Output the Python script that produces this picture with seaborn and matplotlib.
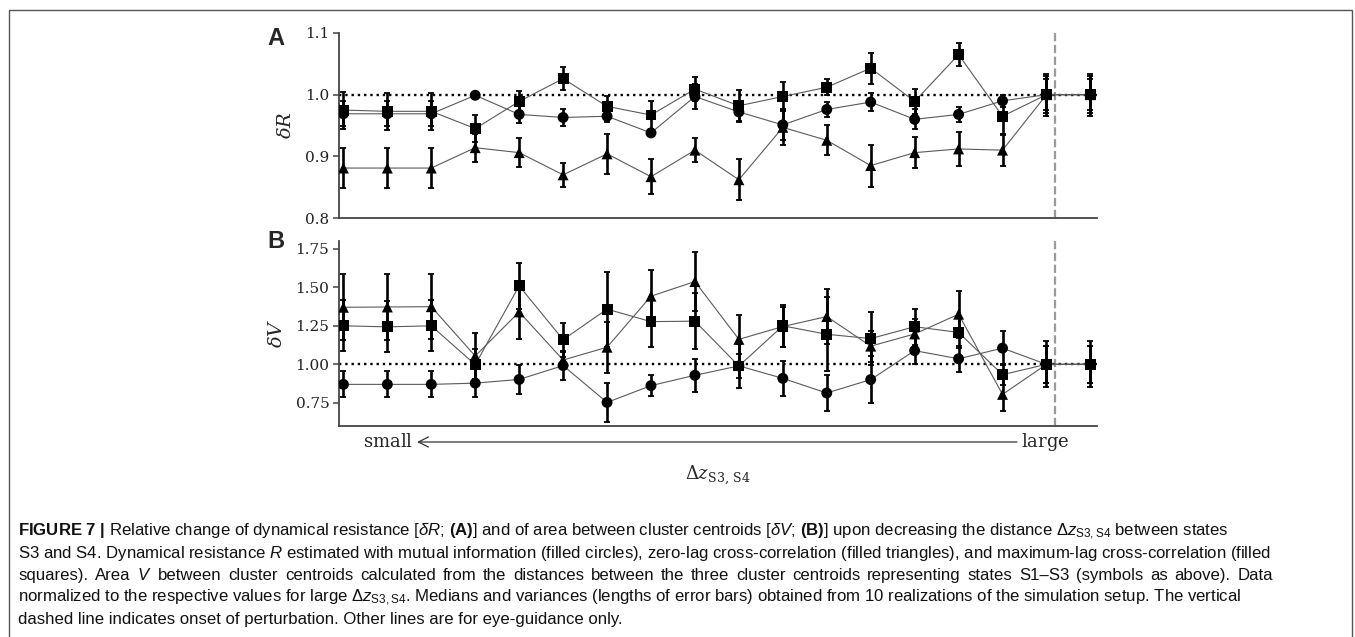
import matplotlib
matplotlib.use("Agg")
import matplotlib.pyplot as plt
from matplotlib import font_manager
from matplotlib.patches import Rectangle, FancyArrowPatch
import pandas as pd
import seaborn as sns

# ---------------- data ----------------
x_index = list(range(18))
methods = ["circle", "triangle", "square"]
perturbation_onset = 16.2

dR_circle = [0.969, 0.969, 0.969, 0.999, 0.968, 0.963, 0.965, 0.938, 0.997, 0.972, 0.951, 0.976, 0.988, 0.960, 0.968, 0.990, 1.000, 1.000]
dR_circle_err = [0.020, 0.020, 0.020, 0.004, 0.014, 0.014, 0.010, 0.005, 0.020, 0.017, 0.024, 0.012, 0.014, 0.016, 0.012, 0.010, 0.025, 0.025]
dR_triangle = [0.881, 0.881, 0.881, 0.914, 0.906, 0.870, 0.904, 0.867, 0.910, 0.862, 0.947, 0.926, 0.885, 0.906, 0.912, 0.910, 1.000, 1.000]
dR_triangle_err = [0.032, 0.032, 0.032, 0.023, 0.024, 0.020, 0.032, 0.028, 0.019, 0.033, 0.029, 0.024, 0.034, 0.025, 0.027, 0.025, 0.030, 0.030]
dR_square = [0.975, 0.973, 0.973, 0.945, 0.989, 1.026, 0.981, 0.967, 1.009, 0.982, 0.997, 1.012, 1.043, 0.989, 1.065, 0.965, 1.000, 1.000]
dR_square_err = [0.030, 0.030, 0.030, 0.022, 0.017, 0.019, 0.017, 0.023, 0.020, 0.025, 0.024, 0.013, 0.025, 0.020, 0.018, 0.028, 0.034, 0.034]

dV_circle = [0.870, 0.870, 0.870, 0.878, 0.902, 0.992, 0.753, 0.862, 0.929, 0.990, 0.909, 0.814, 0.901, 1.089, 1.036, 1.105, 1.000, 1.000]
dV_circle_err = [0.085, 0.085, 0.085, 0.090, 0.095, 0.095, 0.127, 0.067, 0.108, 0.080, 0.113, 0.119, 0.155, 0.088, 0.085, 0.111, 0.120, 0.120]
dV_triangle = [1.370, 1.372, 1.374, 1.054, 1.340, 1.028, 1.111, 1.442, 1.537, 1.162, 1.245, 1.310, 1.118, 1.197, 1.325, 0.805, 1.000, 1.000]
dV_triangle_err = [0.215, 0.213, 0.211, 0.150, 0.175, 0.050, 0.165, 0.170, 0.190, 0.156, 0.130, 0.181, 0.100, 0.100, 0.151, 0.108, 0.120, 0.120]
dV_square = [1.250, 1.243, 1.250, 0.998, 1.509, 1.160, 1.358, 1.277, 1.280, 0.989, 1.250, 1.195, 1.167, 1.244, 1.207, 0.933, 1.000, 1.000]
dV_square_err = [0.165, 0.165, 0.165, 0.100, 0.147, 0.110, 0.243, 0.162, 0.183, 0.141, 0.135, 0.240, 0.173, 0.117, 0.100, 0.070, 0.150, 0.150]

yticks_A = [0.8, 0.9, 1.0, 1.1]
yticks_B = [0.75, 1.00, 1.25, 1.50, 1.75]

caption_lines = [
    r"$\mathbf{FIGURE\ 7\ |}$ Relative change of dynamical resistance [$\delta R$; $\mathbf{(A)}$] and of area between cluster centroids [$\delta V$; $\mathbf{(B)}$] upon decreasing the distance $\Delta z_{\mathrm{S3,S4}}$ between states",
    r"S3 and S4. Dynamical resistance $R$ estimated with mutual information (filled circles), zero-lag cross-correlation (filled triangles), and maximum-lag cross-correlation (filled",
    r"squares). Area $V$ between cluster centroids calculated from the distances between the three cluster centroids representing states S1–S3 (symbols as above). Data",
    r"normalized to the respective values for large $\Delta z_{\mathrm{S3,S4}}$. Medians and variances (lengths of error bars) obtained from 10 realizations of the simulation setup. The vertical",
    r"dashed line indicates onset of perturbation. Other lines are for eye-guidance only.",
]
caption_justify = [False, False, True, False, False]


def long_frame(series):
    rows = []
    for m, (vals, errs) in zip(methods, series):
        for i, v, e in zip(x_index, vals, errs):
            rows.append({"idx": i, "value": v, "err": e, "method": m})
    return pd.DataFrame(rows)


dfA = long_frame([(dR_circle, dR_circle_err), (dR_triangle, dR_triangle_err), (dR_square, dR_square_err)])
dfB = long_frame([(dV_circle, dV_circle_err), (dV_triangle, dV_triangle_err), (dV_square, dV_square_err)])


# ---------------- fonts ----------------
def pick(fams):
    for f in fams:
        try:
            font_manager.findfont(font_manager.FontProperties(family=f), fallback_to_default=False)
            return f
        except Exception:
            pass
    return "DejaVu Sans"


cap_font = pick(["Liberation Sans Narrow", "Liberation Sans", "Arial"])
label_font = pick(["Liberation Sans", "Arial"])

sns.set_style("ticks")
plt.rcParams["font.family"] = ["DejaVu Serif"]
plt.rcParams["mathtext.fontset"] = "custom"
plt.rcParams["mathtext.rm"] = cap_font
plt.rcParams["mathtext.it"] = cap_font + ":italic"
plt.rcParams["mathtext.bf"] = cap_font + ":bold"

W, H = 1355, 637
fig = plt.figure(figsize=(W / 100, H / 100), dpi=100)


def fx(px):
    return px / W


def fy(py):
    return 1 - py / H


axA = fig.add_axes([fx(339), fy(218), (1097 - 339) / W, (218 - 33) / H])
axB = fig.add_axes([fx(339), fy(426), (1097 - 339) / W, (426 - 241) / H])

marker_map = {"circle": "o", "triangle": "^", "square": "s"}
line_pal = {m: "#5a5a5a" for m in methods}


def draw_panel(ax, df, ylim, yticks, fmt, ylabel):
    ax.axhline(1.0, color="black", ls=":", lw=1.7, zorder=1.5)
    ax.axvline(perturbation_onset, color="#9a9a9a", ls="--", lw=1.6, zorder=1.2)
    sns.lineplot(data=df, x="idx", y="value", hue="method", palette=line_pal,
                 estimator=None, legend=False, linewidth=0.8, ax=ax, zorder=2)
    for m in methods:
        sub = df[df.method == m]
        ax.errorbar(sub.idx, sub.value, yerr=sub.err, fmt="none", ecolor="black",
                    elinewidth=1.9, capsize=2.4, capthick=1.3, zorder=3)
    sns.scatterplot(data=df, x="idx", y="value", style="method", markers=marker_map,
                    style_order=methods, color="black", s=62, linewidth=0,
                    edgecolor="none", legend=False, ax=ax, zorder=4)
    ax.set_xlim(-0.1, 17.15)
    ax.set_ylim(*ylim)
    ax.set_yticks(yticks)
    ax.set_yticklabels([fmt.format(t) for t in yticks])
    ax.set_xticks([])
    ax.set_xlabel("")
    ax.set_ylabel(ylabel, fontsize=14, labelpad=7, math_fontfamily="dejavuserif")
    sns.despine(ax=ax)
    for s in ["left", "bottom"]:
        ax.spines[s].set_color("#444444")
        ax.spines[s].set_linewidth(1.3)
    ax.tick_params(axis="y", length=4.5, width=1.1, color="#444444", pad=2.5,
                   labelsize=11, labelcolor="#222222")
    ax.patch.set_alpha(0)


draw_panel(axA, dfA, (0.8, 1.1), yticks_A, "{:.1f}", r"$\delta R$")
draw_panel(axB, dfB, (0.6, 1.8), yticks_B, "{:.2f}", r"$\delta V$")

fig.text(fx(276), fy(38.5), "A", fontsize=17, fontweight="bold", family=label_font,
         ha="center", va="center")
fig.text(fx(276), fy(241.5), "B", fontsize=17, fontweight="bold", family=label_font,
         ha="center", va="center")

# x-direction annotation
fig.text(fx(413), fy(442), r"$\mathrm{small}$", fontsize=13, ha="right", va="center",
         math_fontfamily="dejavuserif")
fig.text(fx(1021), fy(442), r"$\mathrm{large}$", fontsize=13, ha="left", va="center",
         math_fontfamily="dejavuserif")
arrow = FancyArrowPatch(posA=(fx(1017), fy(442)), posB=(fx(417), fy(442)),
                        transform=fig.transFigure, arrowstyle="->", mutation_scale=18,
                        lw=0.9, color="#333333", shrinkA=0, shrinkB=0)
fig.add_artist(arrow)
fig.text(fx(718), fy(475), r"$\Delta z_{\mathrm{S3,\,S4}}$", fontsize=13, ha="center",
         va="center", math_fontfamily="dejavuserif")

# frame
fig.add_artist(Rectangle((fx(9), -0.2), fx(1352) - fx(9), fy(10) + 0.2,
                         transform=fig.transFigure, fill=False, ec="#555555", lw=1.0))

# caption
renderer = fig.canvas.get_renderer()
probe = fig.text(0, 0, caption_lines[1], fontsize=11, family=cap_font)
wprobe = probe.get_window_extent(renderer).width
probe.remove()
cap_size = 11 * 1255 / wprobe

x0 = 18
right = 1273
baselines = [536, 558, 580, 602, 624]
for line, just, yb in zip(caption_lines, caption_justify, baselines):
    if not just:
        fig.text(fx(x0), fy(yb), line, fontsize=cap_size, family=cap_font,
                 ha="left", va="baseline", color="#111111")
    else:
        words = line.split(" ")
        texts = [fig.text(0, fy(yb), w_, fontsize=cap_size, family=cap_font,
                          ha="left", va="baseline", color="#111111") for w_ in words]
        widths = [t.get_window_extent(renderer).width for t in texts]
        gap = (right - x0 - sum(widths)) / (len(words) - 1)
        xpos = x0
        for t, wd in zip(texts, widths):
            t.set_x(fx(xpos))
            xpos += wd + gap

fig.savefig("out.png", dpi=100)
